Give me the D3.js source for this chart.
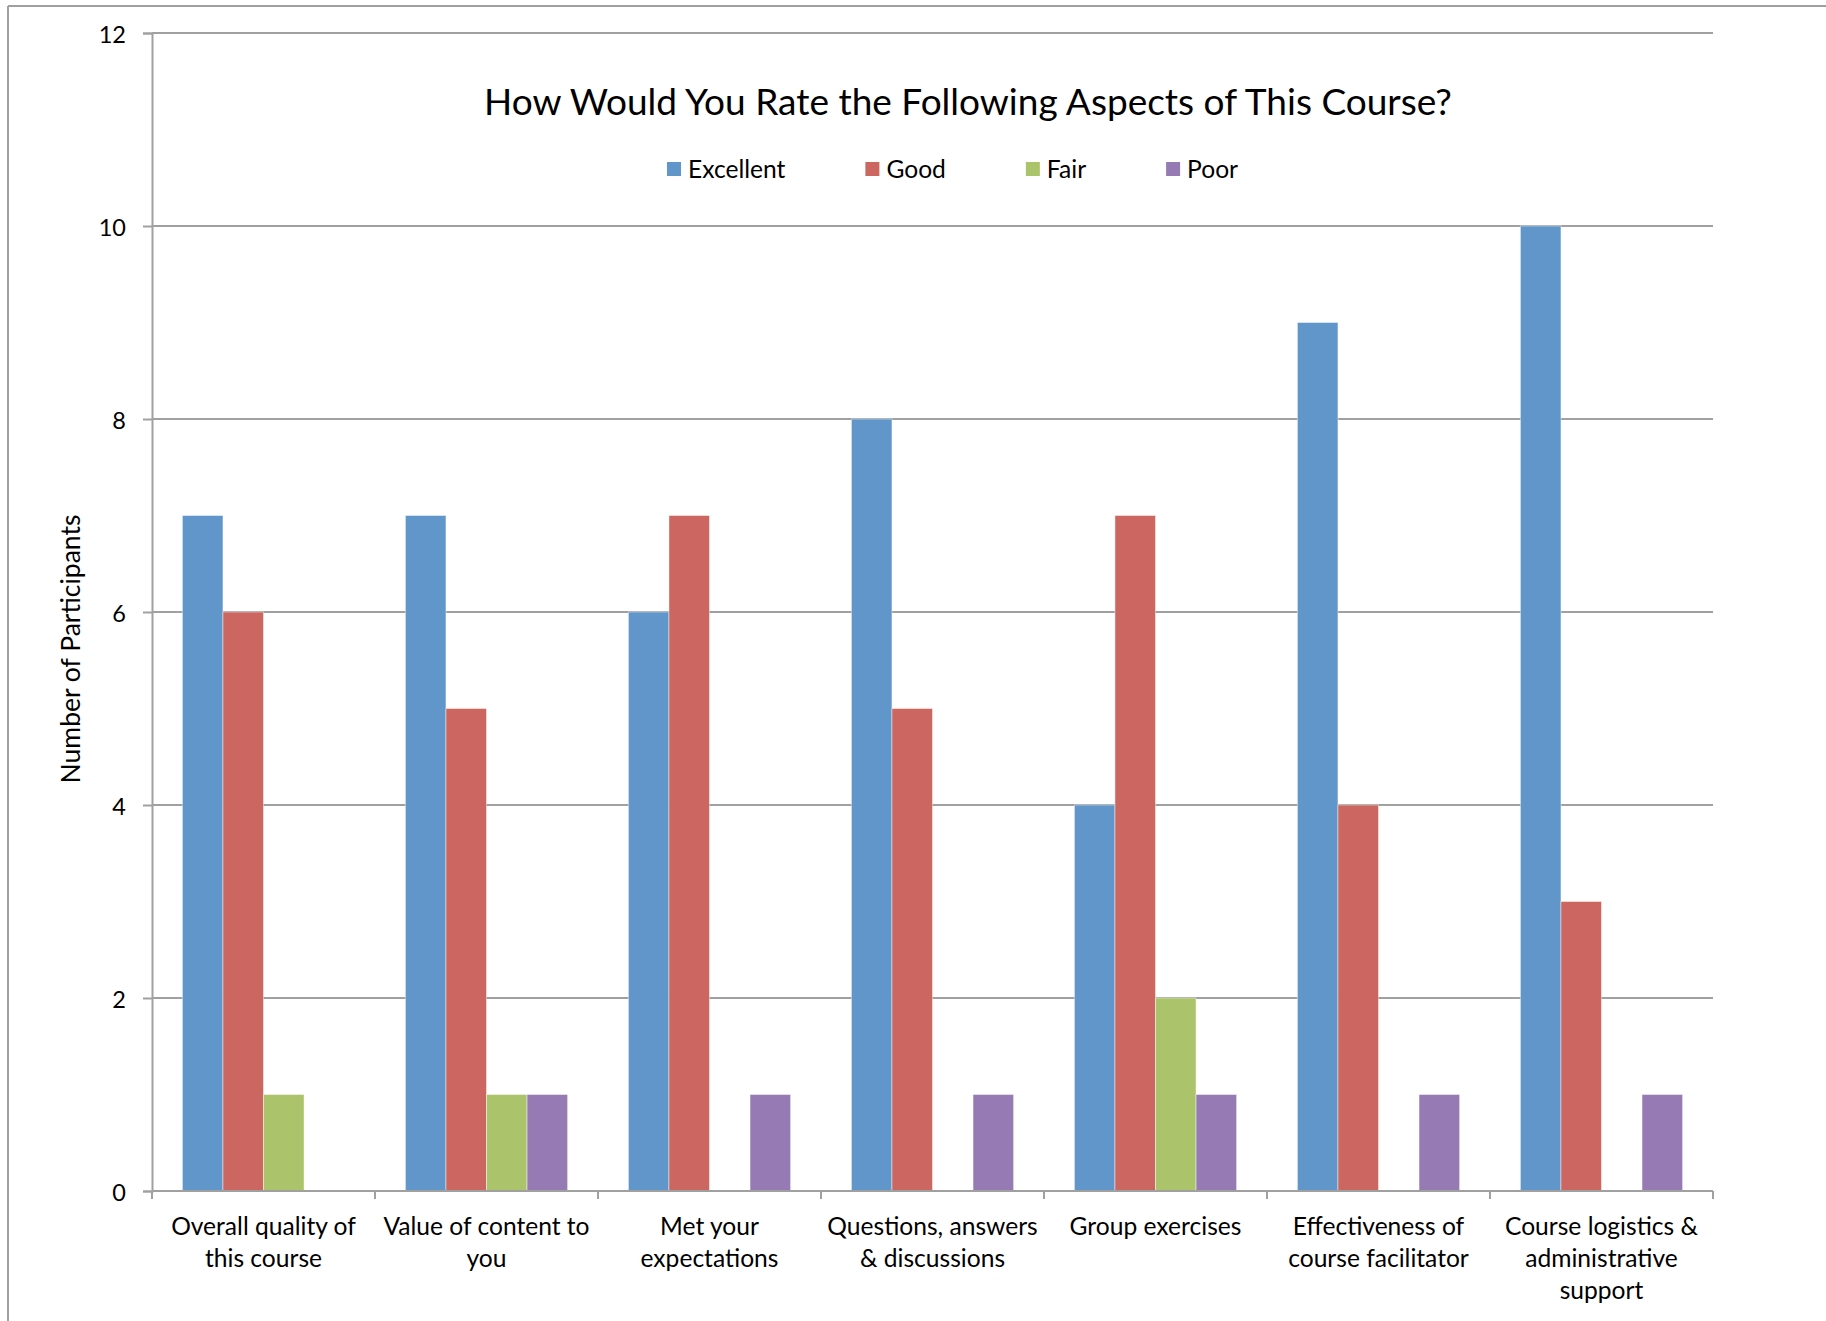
<!DOCTYPE html>
<html>
<head>
<meta charset="utf-8">
<script src="https://cdn.jsdelivr.net/npm/d3@7"></script>
<style>
  html, body { margin: 0; padding: 0; background: #fff; }
  svg { display: block; font-family: Lato, "Open Sans", sans-serif; }
</style>
</head>
<body>
<svg id="chart" width="1826" height="1321"></svg>
<script>
const title = "How Would You Rate the Following Aspects of This Course?";
const yAxisTitle = "Number of Participants";
const categories = [
  "Overall quality of\nthis course",
  "Value of content to\nyou",
  "Met your\nexpectations",
  "Questions, answers\n& discussions",
  "Group exercises",
  "Effectiveness of\ncourse facilitator",
  "Course logistics &\nadministrative\nsupport"
];
const seriesNames = ["Excellent", "Good", "Fair", "Poor"];
const excellent = [7, 7, 6, 8, 4, 9, 10];
const good      = [6, 5, 7, 5, 7, 4, 3];
const fair      = [1, 1, 0, 0, 2, 0, 0];
const poor      = [0, 1, 1, 1, 1, 1, 1];
const yTicks = [0, 2, 4, 6, 8, 10, 12];
const colors = ["#6096C9", "#CC6660", "#ABC46B", "#957AB3"];

const seriesValues = [excellent, good, fair, poor];

const svg = d3.select("#chart");
const W = 1826, H = 1321;
const plot = { left: 152, right: 1713, top: 33, bottom: 1191 };
const gridColor = "#A0A0A0";

// outer frame (top and left edges visible)
svg.append("line").attr("x1", 8).attr("y1", 6).attr("x2", W).attr("y2", 6)
  .attr("stroke", "#A0A0A0").attr("stroke-width", 2);
svg.append("line").attr("x1", 8).attr("y1", 6).attr("x2", 8).attr("y2", H)
  .attr("stroke", "#A0A0A0").attr("stroke-width", 2);

const x = d3.scaleBand().domain(categories).range([plot.left, plot.right]).padding(0);
const y = d3.scaleLinear().domain([0, 12]).range([plot.bottom, plot.top]);
const bw = x.bandwidth() / 5.5;
const xs = d3.scaleBand().domain(seriesNames)
  .range([0.75 * bw, x.bandwidth() - 0.75 * bw]).padding(0);

// gridlines
svg.append("g").selectAll("line").data(yTicks.filter(d => d > 0)).join("line")
  .attr("x1", plot.left).attr("x2", plot.right)
  .attr("y1", d => y(d)).attr("y2", d => y(d))
  .attr("stroke", gridColor).attr("stroke-width", 2);

// y axis
const yAxis = svg.append("g").attr("transform", `translate(${plot.left},0)`)
  .call(d3.axisLeft(y).tickValues(yTicks).tickSize(9).tickPadding(17).tickFormat(d3.format("d")));
yAxis.select(".domain").attr("stroke", gridColor).attr("stroke-width", 2);
yAxis.selectAll(".tick line").attr("stroke", gridColor).attr("stroke-width", 2);
yAxis.selectAll(".tick text").attr("font-size", 23.5).attr("fill", "#000")
  .attr("font-family", "Lato, sans-serif").attr("dy", "0.42em");

// bars
const groups = svg.append("g").selectAll("g").data(categories).join("g")
  .attr("transform", d => `translate(${x(d)},0)`);
groups.selectAll("rect")
  .data((c, i) => seriesNames.map((s, j) => ({ s, v: seriesValues[j][i], j })).filter(d => d.v > 0))
  .join("rect")
  .attr("x", d => xs(d.s))
  .attr("width", xs.bandwidth())
  .attr("y", d => y(d.v))
  .attr("height", d => y(0) - y(d.v))
  .attr("fill", d => colors[d.j])
  .attr("stroke", "rgba(255,255,255,0.45)")
  .attr("stroke-width", 1);

// x axis baseline and ticks
svg.append("line").attr("x1", plot.left).attr("x2", plot.right)
  .attr("y1", plot.bottom).attr("y2", plot.bottom)
  .attr("stroke", gridColor).attr("stroke-width", 2);
const boundaries = categories.map(c => x(c)).concat([x(categories[categories.length - 1]) + x.bandwidth()]);
svg.append("g").selectAll("line").data(boundaries).join("line")
  .attr("x1", d => d).attr("x2", d => d)
  .attr("y1", plot.bottom).attr("y2", plot.bottom + 8)
  .attr("stroke", gridColor).attr("stroke-width", 2);

// category labels
const catLabels = svg.append("g").selectAll("text").data(categories).join("text")
  .attr("text-anchor", "middle")
  .attr("font-size", 24.6)
  .attr("fill", "#000")
  .attr("transform", d => `translate(${x(d) + x.bandwidth() / 2},1235)`);
catLabels.selectAll("tspan").data(d => d.split("\n")).join("tspan")
  .attr("x", 0).attr("y", (d, i) => i * 32).text(d => d);

// y axis title
svg.append("text")
  .attr("transform", "translate(80,649) rotate(-90)")
  .attr("text-anchor", "middle")
  .attr("font-size", 26.5)
  .attr("fill", "#000")
  .text(yAxisTitle);

// chart title
svg.append("text")
  .attr("x", 968).attr("y", 115)
  .attr("text-anchor", "middle")
  .attr("font-size", 37)
  .attr("fill", "#000")
  .text(title);

// legend
const legend = svg.append("g");
let lx = 667;
seriesNames.forEach((s, i) => {
  const g = legend.append("g").attr("transform", `translate(${lx},0)`);
  g.append("rect").attr("x", 0).attr("y", 162).attr("width", 14).attr("height", 14)
    .attr("fill", colors[i]);
  const t = g.append("text").attr("x", 21).attr("y", 178)
    .attr("font-size", 24.6).attr("fill", "#000").text(s);
  const tw = t.node().getComputedTextLength();
  lx += 21 + tw + 80;
});
</script>
</body>
</html>
